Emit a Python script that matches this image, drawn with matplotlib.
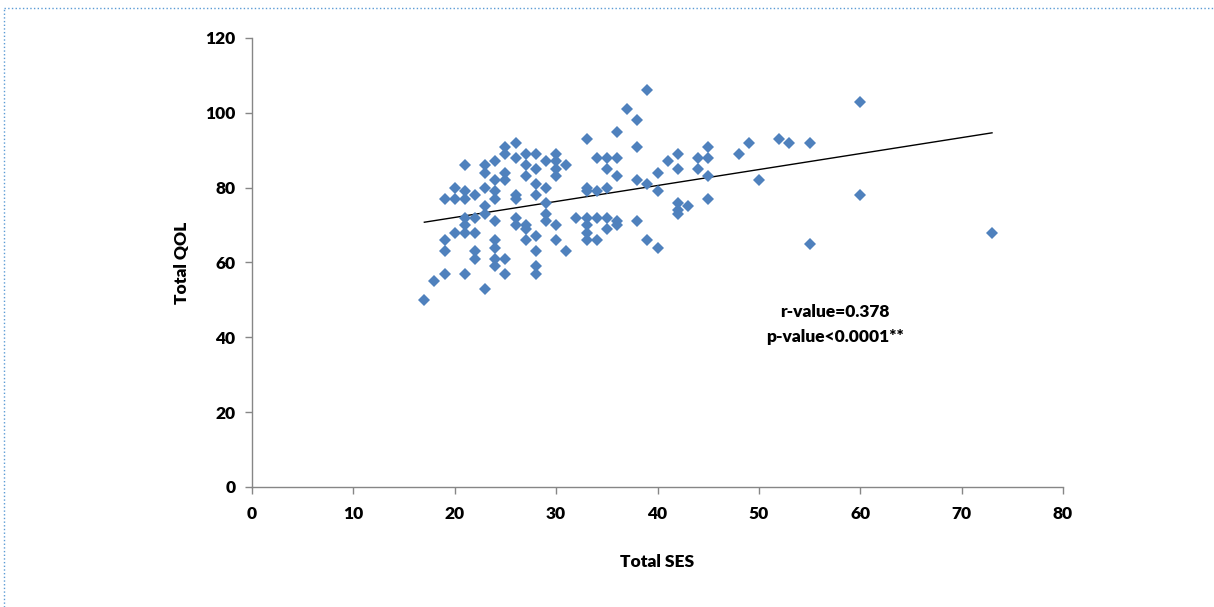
import numpy as np
import matplotlib.pyplot as plt
from matplotlib.lines import Line2D

# Total SES -> list of Total QOL values
ses_groups = {
    17: [50],
    18: [55],
    19: [57, 63, 66, 77],
    20: [68, 77, 80],
    21: [57, 68, 70, 72, 77, 79, 86],
    22: [61, 63, 68, 72, 78],
    23: [53, 73, 75, 80, 84, 86],
    24: [59, 61, 64, 66, 71, 77, 79, 82, 87],
    25: [57, 61, 82, 84, 89, 91],
    26: [70, 72, 77, 78, 88, 92],
    27: [66, 69, 70, 83, 86, 89],
    28: [57, 59, 63, 67, 78, 81, 85, 89],
    29: [71, 73, 76, 80, 87],
    30: [66, 70, 83, 85, 87, 89],
    31: [63, 86],
    32: [72],
    33: [66, 68, 70, 72, 79, 80, 93],
    34: [66, 72, 79, 88],
    35: [69, 72, 80, 85, 88],
    36: [70, 71, 83, 88, 95],
    37: [101],
    38: [71, 82, 91, 98],
    39: [66, 81, 106],
    40: [64, 79, 84],
    41: [87],
    42: [73, 74, 76, 85, 89],
    43: [75],
    44: [85, 88],
    45: [77, 83, 88, 91],
    48: [89],
    49: [92],
    50: [82],
    52: [93],
    53: [92],
    55: [65, 92],
    60: [78, 103],
    73: [68],
}
ses = []
qol = []
for k in ses_groups:
    for v in ses_groups[k]:
        ses.append(k)
        qol.append(v)
ses = np.array(ses, dtype=float)
qol = np.array(qol, dtype=float)

x_ticks = [0, 10, 20, 30, 40, 50, 60, 70, 80]
y_ticks = [0, 20, 40, 60, 80, 100, 120]
stats_text = ['r-value=0.378', 'p-value<0.0001**']

fs = 12.5
fig = plt.figure(figsize=(12.14, 6.07), dpi=100)
ax = fig.add_axes([0.2076, 0.1977, 0.668, 0.7397])

ax.plot(ses, qol, linestyle='none', marker='D', markersize=6.2,
        color='#4F81BD', markeredgewidth=0, zorder=3)

# linear trendline
slope, icpt = np.polyfit(ses, qol, 1)
xx = np.array([ses.min(), ses.max()])
ax.plot(xx, slope * xx + icpt, color='black', linewidth=1.0, zorder=2)

ax.set_xlim(0, 80)
ax.set_ylim(0, 120)
ax.set_xticks(x_ticks)
ax.set_yticks(y_ticks)
for s in ['top', 'right']:
    ax.spines[s].set_visible(False)
for s in ['left', 'bottom']:
    ax.spines[s].set_color('#868686')
    ax.spines[s].set_linewidth(1.0)
ax.tick_params(axis='both', direction='out', length=5, width=1,
               color='#868686', labelsize=fs)
ax.tick_params(axis='x', pad=9)
ax.tick_params(axis='y', pad=7)
for lab in ax.get_xticklabels() + ax.get_yticklabels():
    lab.set_fontfamily('Lato')
    lab.set_fontweight('heavy')

ax.set_xlabel('Total SES', fontsize=fs, fontweight='heavy', family='Lato', labelpad=23)
ax.set_ylabel('Total QOL', fontsize=fs, fontweight='heavy', family='Lato', labelpad=11)

ax.text(57.5, 46.8, stats_text[0], ha='center', va='center',
        fontsize=fs, fontweight='heavy', family='Lato')
ax.text(57.5, 40.1, stats_text[1], ha='center', va='center',
        fontsize=fs, fontweight='heavy', family='Lato')

# dotted frame at top and left edge
fig.add_artist(Line2D([0.003, 1.0], [0.987, 0.987], transform=fig.transFigure,
                      color='#5B9BD5', linestyle=':', linewidth=1))
fig.add_artist(Line2D([0.003, 0.003], [0.0, 0.987], transform=fig.transFigure,
                      color='#5B9BD5', linestyle=':', linewidth=1))

fig.savefig('out.png', dpi=100)
